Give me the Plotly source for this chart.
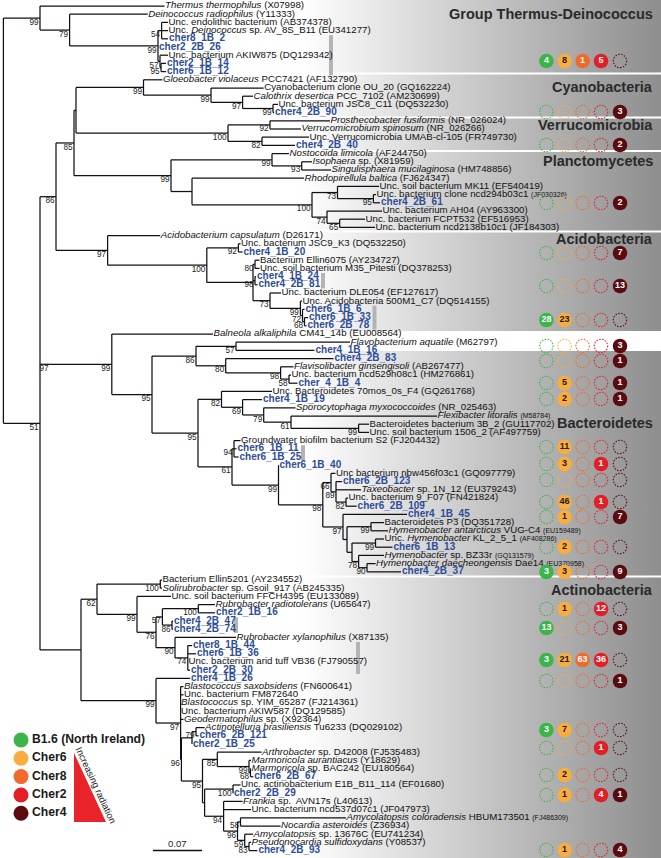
import plotly.graph_objects as go
import math

# ---------------- DATA ----------------
def sm(s):
    return '<span style="font-size:7px">' + s + '</span>'

LEAF_LABELS = [
    "<i>Thermus thermophilus</i> (X07998)",
    "<i>Deinococcus radiophilus</i> (Y11333)",
    "Unc. endolithic bacterium (AB374378)",
    "Unc. <i>Deinococcus</i> sp. AV_8S_B11 (EU341277)",
    "cher8_1B_2", "cher2_2B_26",
    "Unc. bacterium AKIW875 (DQ129342)",
    "cher2_1B_14", "cher6_1B_12",
    "<i>Gloeobacter violaceus</i> PCC7421 (AF132790)",
    "Cyanobacterium clone OU_20 (GQ162224)",
    "<i>Calothrix desertica</i> PCC_7102 (AM230699)",
    "Unc. bacterium JSC8_C11 (DQ532230)",
    "cher4_2B_90",
    "<i>Prosthecobacter fusiformis</i> (NR_026024)",
    "<i>Verrucomicrobium spinosum</i> (NR_026266)",
    "Unc. Verrucomicrobia UMAB-cl-105 (FR749730)",
    "cher4_2B_40",
    "<i>Nostocoida limicola</i> (AF244750)",
    "<i>Isophaera</i> sp. (X81959)",
    "<i>Singulisphaera mucilaginosa</i> (HM748856)",
    "<i>Rhodopirellula baltica</i> (FJ624347)",
    "Unc. soil bacterium MK11 (EF540419)",
    "Unc. bacterium clone ncd294b03c1 " + sm("(JF030326)"),
    "cher4_2B_61",
    "Unc. bacterium AH04 (AY963300)",
    "Unc. bacterium FCPT532 (EF516953)",
    "Unc. bacterium ncd2138b10c1 (JF184303)",
    "<i>Acidobacterium capsulatum</i> (D26171)",
    "Unc. bacterium JSC9_K3 (DQ532250)",
    "cher4_1B_20",
    "Bacterium Ellin6075 (AY234727)",
    "Unc. soil bacterium M35_Pitesti (DQ378253)",
    "cher4_1B_24", "cher4_2B_81",
    "Unc. bacterium DLE054 (EF127617)",
    "Unc. Acidobacteria 500M1_C7 (DQ514155)",
    "cher6_1B_6", "cher6_1B_33", "cher6_2B_78",
    "<i>Balneola alkaliphila</i> CM41_14b (EU008564)",
    "<i>Flavobacterium aquatile</i> (M62797)",
    "cher4_1B_16", "cher4_2B_83",
    "<i>Flavisolibacter ginsengisoli</i> (AB267477)",
    "Unc. bacterium ncd529h08c1 (HM276861)",
    "cher_4_1B_4",
    "Unc. Bacteroidetes 70mos_0s_F4 (GQ261768)",
    "cher4_1B_19",
    "<i>Sporocytophaga myxococcoides</i> (NR_025463)",
    "<i>Flexibacter litoralis</i> " + sm("(M58784)"),
    "Bacteroidetes bacterium 3B_2 (GU117702)",
    "Unc. soil bacterium 1506_2 (AF497759)",
    "Groundwater biofilm bacterium S2 (FJ204432)",
    "cher6_1B_11", "cher6_1B_25", "cher6_1B_40",
    "Unc bacterium nbw456f03c1 (GQ097779)",
    "cher6_2B_123",
    "<i>Taxeobacter</i> sp. 1N_12 (EU379243)",
    "Unc. bacterium 9_F07 (FN421824)",
    "cher6_2B_109", "cher4_1B_45",
    "Bacteroidetes P3 (DQ351728)",
    "<i>Hymenobacter antarcticus</i> VUG-C4 " + sm("(EU159489)"),
    "Unc. <i>Hymenobacter</i> KL_2_5_1 " + sm("(AF408286)"),
    "cher6_1B_13",
    "<i>Hymenobacter</i> sp. BZ33r " + sm("(GQ131579)"),
    "<i>Hymenobacter daecheongensis</i> Dae14 " + sm("(EU370958)"),
    "cher4_2B_37",
    "Bacterium Ellin5201 (AY234552)",
    "<i>Solirubrobacter</i> sp. Gsoil_917 (AB245335)",
    "Unc. soil bacterium FFCH4395 (EU133089)",
    "<i>Rubrobacter radiotolerans</i> (U65647)",
    "cher2_1B_16", "cher4_2B_47", "cher4_2B_74",
    "<i>Rubrobacter xylanophilus</i> (X87135)",
    "cher8_1B_44", "cher6_1B_36",
    "Unc. bacterium arid tuff VB36 (FJ790557)",
    "cher2_2B_30", "cher4_1B_26",
    "<i>Blastococcus saxobsidens</i> (FN600641)",
    "Unc. bacterium FM872640",
    "<i>Blastococcus</i> sp. YIM_65287 (FJ214361)",
    "Unc. bacterium AKIW587 (DQ129585)",
    "<i>Geodermatophilus</i> sp. (X92364)",
    "<i>Actinotelluria brasiliensis</i> Tu6233 (DQ029102)",
    "cher6_2B_121", "cher2_1B_25",
    "<i>Arthrobacter</i> sp. D42008 (FJ535483)",
    "<i>Marmoricola aurantiacus</i> (Y18629)",
    "<i>Marmoricola</i> sp. BAC242 (EU180564)",
    "cher6_2B_67",
    "Unc. actinobacterium E1B_B11_114 (EF01680)",
    "cher2_2B_29",
    "<i>Frankia</i> sp.  AVN17s (L40613)",
    "Unc. bacterium ncd537d07c1 (JF047973)",
    "<i>Amycolatopsis coloradensis</i> HBUM173501 " + sm("(FJ486309)"),
    "<i>Nocardia asteroides</i> (Z36934)",
    "<i>Amycolatopsis</i> sp. 13676C (EU741234)",
    "<i>Pseudonocardia sulfidoxydans</i> (Y08537)",
    "cher4_2B_93",
]

# tip depth of every leaf (tree depth units, 0.07 subst./site = 49 units)
LEAF_DEPTH = [
    164.6, 147.7, 168, 168, 168, 158, 168, 166, 166,
    162.4, 263.7, 253, 278, 274,
    330, 301, 309, 295,
    289, 312, 331, 304, 379, 376, 380, 382, 365, 375,
    160.3, 240.5, 242.5, 259.5, 259.5, 256, 257.5, 281, 302, 304.5, 308, 306.5,
    213, 350, 314.5, 333.5, 293.5, 291, 297.5, 272, 262, 295.5, 437, 369, 369,
    240.5, 236.5, 238.5, 278.5, 335.5, 342, 361, 348, 356.6, 407, 384, 388,
    384, 392.5, 384, 375.6, 401,
    162, 162, 171, 215, 215, 173, 173, 236, 192, 196, 188, 190,
    190, 183.5, 183.5, 180.6, 180.6, 183.5, 204.6, 198.5, 192,
    261.6, 251, 251, 253.3, 240.5, 233, 242.6, 251, 346, 280.6, 253, 251, 257.4,
]

def N(depth, boot, *children):
    return {"x": depth, "bs": boot, "ch": list(children)}

# topology: N(node depth, bootstrap, children...) ; ints are leaf indices
TREE = N(3.4, None,
    N(40, 99, 0,
        N(69.6, 79, 1,
            N(158, 99, N(161.6, 54, 2, 3, 4), 5,
              N(160, 57, 6, N(161, 95, 7, 8))))),
    N(40, 51,
        N(56, 86,
            N(74, 85,
                N(76, None,
                    N(143.5, 99, 9, N(211, 99, 10, N(242.6, 97, 11, N(273, 99, 12, 13)))),
                    N(228, 100, N(270, 92, 14, 15), N(262, 82, 16, 17))),
                N(171, 99,
                    N(272, 99, 18, N(301.7, 93, 19, 20)),
                    N(192, None, 21,
                        N(312, 100,
                            N(337.5, 73, 22, N(373.4, 95, 23, 24)),
                            N(327, 74, 25, N(339.7, 65, 26, 27)))))),
            N(107.6, 97, 28,
                N(206.8, 100,
                    N(238.4, 92, 29, 30),
                    N(253, None,
                        N(255, 80, 31, 32),
                        N(255, 98, 33, 34),
                        N(270, 73, 35, N(300.4, 99, 36, N(302.5, 72, 37, N(304.5, 68, 38, 39)))))))),
        N(50, 97,
            N(111.8, 99, 40,
                N(152, 95,
                    N(196, 86,
                        N(236, 57, 41, 42),
                        N(225.7, 80, 43, N(280.6, 98, 44, N(289, 58, 45, 46)))),
                    N(198, 95,
                        N(221.5, 82, 47, N(242.6, 69, 48, N(263.7, 79, 49, N(291, 61, 50, N(358.6, 99, 51, 52))))),
                        N(232, 61,
                            N(234, 94, 53, 54, 55),
                            N(278.5, 99, 56,
                                N(322.8, 98,
                                    N(331, 66, 57, N(336, 89, 58, 59, N(346, 82, 60, 61))),
                                    N(343, 97, 62,
                                        N(347, None,
                                            N(371, 99, 63, 64),
                                            N(352, None,
                                                N(375.5, 99, 65, 66),
                                                N(358.6, 78, 67, N(367, 90, 68, 69)))))))))))),
            N(81, None,
                N(97, 62,
                    N(160.3, 100, 70, 71),
                    N(137, 99, 72,
                        N(156, 76,
                            N(162.4, 57, N(198.3, 100, 73, 74), N(172, 86, 75, 76)),
                            N(175, 90, 77, N(187.8, 74, 78, 79, 80, 81))))),
                N(156, 99, 82,
                    N(180.6, 97, 83, 84, 85, 86, 87,
                        N(181.4, 96,
                            N(192, None, N(196, 79, 88, 89), 90),
                            N(202.5, 95,
                                N(217.3, 85, 91, N(249, 99, 92, N(250.5, 68, 93, 94))),
                                N(204.6, None,
                                    N(233, 100, 95, 96),
                                    N(223.6, 94, 97, 98,
                                        N(237.5, 96,
                                            N(240.5, 58, 99, 100),
                                            N(244.7, 59, 101, N(249, 83, 102, 103))))))))))))

GROUPS = ["Group Thermus-Deinococcus", "Cyanobacteria", "Verrucomicrobia",
          "Planctomycetes", "Acidobacteria", "Bacteroidetes", "Actinobacteria"]

SAMPLES = ["B1.6 (North Ireland)", "Cher6", "Cher8", "Cher2", "Cher4"]
B16 =   [4, 0, 0, 0, 0, 0, 28, 0, 0, 0, 0, 0, 0, 0, 0, 0, 0, 3, 0, 13, 3, 0, 3, 0, 0, 0, 0]
CHER6 = [8, 0, 0, 0, 0, 0, 23, 0, 0, 5, 2, 11, 3, 0, 46, 1, 2, 3, 1, 0, 21, 0, 7, 0, 2, 1, 1]
CHER8 = [1, 0, 0, 0, 0, 0, 0, 0, 0, 0, 0, 0, 0, 0, 0, 0, 0, 0, 0, 0, 63, 0, 0, 0, 0, 0, 0]
CHER2 = [5, 0, 0, 0, 0, 0, 0, 0, 0, 0, 0, 0, 1, 0, 1, 0, 0, 0, 12, 0, 36, 0, 0, 1, 0, 4, 0]
CHER4 = [0, 3, 2, 2, 7, 13, 0, 3, 1, 1, 1, 0, 0, 0, 0, 7, 0, 9, 0, 3, 0, 1, 0, 0, 0, 1, 4]
SCALE_VALUE = 0.07

# ---------------- LAYOUT / STYLE ----------------
W, H = 661, 858
ROW_PX, TOP_PX = 8.2, 6.0
UNITS_PER_SUBST = 700.0

def row(p):
    return (p - TOP_PX) / ROW_PX

FONT = "Liberation Sans, Arial, Helvetica, sans-serif"
BLUE = "#2D4C9A"
SAMPLE_COLORS = ["#3BB54A", "#F9AD3E", "#F16A2B", "#E31E26", "#5B0B10"]
NUM_COLORS = ["white", "#1a1a1a", "white", "white", "white"]
CIRCLE_ROWS_PX = [61, 112, 145, 203, 253, 286, 320, 346, 361, 383, 399, 447, 464, 480, 502,
                  517, 547, 572, 609, 628, 660, 681, 730, 748, 775, 795, 850]
CIRCLE_COLS_X = [546.4, 564.6, 582.6, 601.0, 620.0]
PANELS_PX = [(0, 72.5), (74.5, 116.5), (118.5, 150), (152, 230.5), (232.5, 331),
             (351, 575.5), (577.5, 858)]
TITLE_Y_PX = [14, 87, 125, 161, 239, 423, 590]
BARS = [(331, 4, 8), (323, 33, 34), (374.5, 37, 39), (303, 54, 55), (236, 75, 76), (358, 78, 81)]

fig = go.Figure()

# background panels with gradient
for (y0, y1) in PANELS_PX:
    fig.add_trace(go.Scatter(
        x=[300, W, W, 300, 300], y=[row(y0), row(y0), row(y1), row(y1), row(y0)],
        mode="lines", line=dict(width=0), fill="toself",
        fillgradient=dict(type="horizontal", colorscale=[[0, "#ffffff"], [1, "#8e8e8e"]],
                          start=300, stop=W),
        hoverinfo="skip"))

# grey cluster bars
for (bx, a, b) in BARS:
    fig.add_trace(go.Scatter(x=[bx, bx], y=[a - 0.45, b + 0.45], mode="lines",
                             line=dict(color="#b4b4b4", width=4), hoverinfo="skip"))

# tree
lx, ly = [], []
bsx, bsy, bst = [], [], []

def place(node):
    if isinstance(node, int):
        return LEAF_DEPTH[node], float(node)
    ys = []
    for ch in node["ch"]:
        cx, cy = place(ch)
        lx.extend([node["x"], cx, None])
        ly.extend([cy, cy, None])
        ys.append(cy)
    y = (ys[0] + ys[-1]) / 2.0
    lx.extend([node["x"], node["x"], None])
    ly.extend([ys[0], ys[-1], None])
    if node["bs"] is not None:
        bsx.append(node["x"] - 1.5)
        bsy.append(y + 4.5 / ROW_PX)
        bst.append(str(node["bs"]))
    return node["x"], y

place(TREE)
fig.add_trace(go.Scatter(x=lx, y=ly, mode="lines", line=dict(color="#111111", width=1.25),
                         hoverinfo="skip"))
fig.add_trace(go.Scatter(x=bsx, y=bsy, text=bst, mode="text", textposition="middle left",
                         textfont=dict(family=FONT, size=8.2, color="#222222"), hoverinfo="skip"))

# leaf labels
blk = [i for i, s in enumerate(LEAF_LABELS) if not s.startswith("cher")]
blu = [i for i, s in enumerate(LEAF_LABELS) if s.startswith("cher")]
fig.add_trace(go.Scatter(x=[LEAF_DEPTH[i] + 0.5 for i in blk], y=blk,
                         text=[LEAF_LABELS[i] for i in blk], mode="text",
                         textposition="middle right",
                         textfont=dict(family=FONT, size=9.7, color="#111111"), hoverinfo="skip"))
fig.add_trace(go.Scatter(x=[LEAF_DEPTH[i] + 1.0 for i in blu], y=blu,
                         text=["<b>" + LEAF_LABELS[i] + "</b>" for i in blu], mode="text",
                         textposition="middle right",
                         textfont=dict(family=FONT, size=10, color=BLUE), hoverinfo="skip"))

# group titles
for g, ty in zip(GROUPS, TITLE_Y_PX):
    fig.add_annotation(x=655, y=row(ty), text="<b>" + g + "</b>", showarrow=False,
                       xanchor="right", yanchor="middle",
                       font=dict(family=FONT, size=14.5, color="#2a2a2a"))

# abundance circles
R = 6.8
for j, counts in enumerate([B16, CHER6, CHER8, CHER2, CHER4]):
    cx = CIRCLE_COLS_X[j]
    fx, fy, ft = [], [], []
    ex, ey = [], []
    for k, c in enumerate(counts):
        yy = row(CIRCLE_ROWS_PX[k])
        if c > 0:
            fx.append(cx); fy.append(yy); ft.append("<b>%d</b>" % c)
        else:
            for t in range(41):
                a = 2 * math.pi * t / 40
                ex.append(cx + R * math.cos(a))
                ey.append(yy + R * math.sin(a) / ROW_PX)
            ex.append(None); ey.append(None)
    fig.add_trace(go.Scatter(x=ex, y=ey, mode="lines",
                             line=dict(color=SAMPLE_COLORS[j], width=1.1, dash="1.5px,1.5px"),
                             hoverinfo="skip"))
    fig.add_trace(go.Scatter(x=fx, y=fy, text=ft, mode="markers+text", textposition="middle center",
                             marker=dict(size=14.5, color=SAMPLE_COLORS[j], line=dict(width=0)),
                             textfont=dict(family=FONT, size=9, color=NUM_COLORS[j]),
                             hoverinfo="skip"))

# legend
LEG_Y_PX = [740, 758.3, 776.6, 795, 813.3]
fig.add_trace(go.Scatter(x=[21] * 5, y=[row(v) for v in LEG_Y_PX], mode="markers",
                         marker=dict(size=15, color=SAMPLE_COLORS), hoverinfo="skip"))
fig.add_trace(go.Scatter(x=[32] * 5, y=[row(v) for v in LEG_Y_PX],
                         text=["<b>" + s + "</b>" for s in SAMPLES], mode="text",
                         textposition="middle right",
                         textfont=dict(family=FONT, size=12.2, color="#1a1a1a"), hoverinfo="skip"))
# radiation triangle
fig.add_trace(go.Scatter(x=[74, 74, 106, 74], y=[row(753), row(822), row(822), row(753)],
                         mode="lines", line=dict(width=0), fill="toself", fillcolor="#E8232A",
                         hoverinfo="skip"))
fig.add_annotation(x=96.5, y=row(785), text="Increasing radiation", showarrow=False,
                   textangle=65, font=dict(family=FONT, size=9.5, color="#222222"))

# scale bar
sb = SCALE_VALUE * UNITS_PER_SUBST
fig.add_trace(go.Scatter(x=[153, 153 + sb], y=[row(850.5), row(850.5)], mode="lines",
                         line=dict(color="#111111", width=1.3), hoverinfo="skip"))
fig.add_annotation(x=153 + sb / 2, y=row(843), text="%.2f" % SCALE_VALUE, showarrow=False,
                   font=dict(family=FONT, size=9.5, color="#222222"))

fig.update_layout(
    width=W, height=H, margin=dict(l=0, r=0, t=0, b=0), autosize=False,
    paper_bgcolor="white", plot_bgcolor="white", showlegend=False,
    xaxis=dict(range=[0, W], visible=False, fixedrange=True),
    yaxis=dict(range=[row(H), row(0)], visible=False, fixedrange=True),
)
fig.write_html("out.html", post_script="document.body.style.margin='0';document.body.style.overflow='hidden';",
               config={"displayModeBar": False})
